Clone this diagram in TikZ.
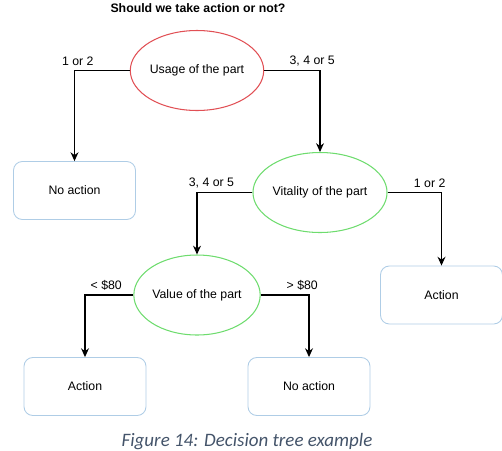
\documentclass[tikz,border=0pt]{standalone}
\usepackage{fontspec}
\setmainfont{Liberation Sans}
\newfontfamily\captionfont{Carlito}
\usetikzlibrary{arrows.meta, positioning, shapes.geometric}
\definecolor{tree-red}{RGB}{225, 80, 85}
\definecolor{tree-green}{RGB}{110, 220, 110}
\definecolor{tree-blue}{RGB}{175, 205, 230}
\definecolor{caption-gray}{RGB}{68, 84, 106}

\begin{document}
\begin{tikzpicture}[
  x=0.02cm, y=-0.02cm,
  question/.style={ellipse,draw,line width=0.6pt,minimum width=2.38cm,minimum height=1.6cm,
                   inner sep=0pt,align=center,font=\fontsize{7}{8}\selectfont},
  leaf/.style={rectangle,draw=tree-blue,line width=0.5pt,rounded corners=5pt,minimum width=2.44cm,
               minimum height=1.16cm,align=center,font=\fontsize{7}{8}\selectfont},
  arrow/.style={-{Stealth[length=5pt,width=4.5pt]},line width=0.6pt},
  answer/.style={above=1.5pt,inner sep=1pt,font=\fontsize{7}{8}\selectfont}
]
  \useasboundingbox (0,0) rectangle (502,450);

  \node[font=\bfseries\fontsize{7}{8}\selectfont] (title) at (198,8) {Should we take action or not?};

  \node[question, draw=tree-red]   (usage)    at (197,70.5) {Usage of the part};
  \node[question, draw=tree-green] (vitality) at (320,192.5) {Vitality of the part};
  \node[question, draw=tree-green] (value)    at (197,295)   {Value of the part};

  \node[leaf] (noaction1) at (74.5,190.5) {No action};
  \node[leaf] (action1)   at (441.5,295)  {Action};
  \node[leaf] (action2)   at (85,386.5)   {Action};
  \node[leaf] (noaction2) at (309,386.5)  {No action};

  \draw[arrow] (usage.west)    -| node[answer,pos=0.47]{1 or 2} (noaction1.north);
  \draw[arrow] (usage.east)    -| node[answer,pos=0.43]{3, 4 or 5} (vitality.north);
  \draw[arrow] (vitality.west) -| node[answer,pos=0.37]{3, 4 or 5} (value.north);
  \draw[arrow] (vitality.east) -| node[answer,pos=0.39]{1 or 2} (action1.north);
  \draw[arrow] (value.west)    -| node[answer,pos=0.28]{< \$80} (action2.north);
  \draw[arrow] (value.east)    -| node[answer,pos=0.43]{> \$80} (noaction2.north);

  \node[font=\captionfont\itshape\fontsize{10.8}{12}\selectfont, text=caption-gray] (caption) at (247,442)
    {Figure 14: Decision tree example};
\end{tikzpicture}
\end{document}
